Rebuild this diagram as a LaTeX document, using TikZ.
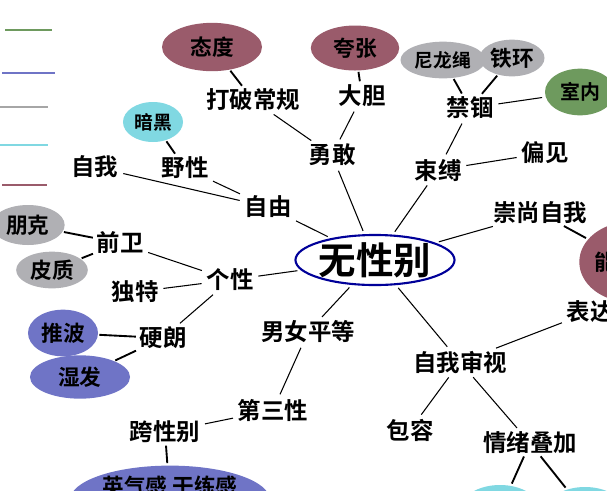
\documentclass[tikz,border=0pt]{standalone}
\usepackage{fontspec}
\setmainfont{Noto Sans CJK SC}[BoldFont={* Bold}]
\usetikzlibrary{shapes.geometric}
\definecolor{wine}{HTML}{9A5B6B}
\definecolor{moss}{HTML}{6E9A5E}
\definecolor{slate}{HTML}{B0B0B4}
\definecolor{aqua}{HTML}{80D8E2}
\definecolor{iris}{HTML}{6F74C6}
\tikzset{
  word/.style={font=\fontsize{20}{22}\selectfont\bfseries, inner sep=1pt},
  tag/.style={ellipse, font=\fontsize{18.5}{20}\selectfont\bfseries, inner sep=0pt},
  link/.style={line width=0.9pt, shorten <=3pt, shorten >=3pt},
  stem/.style={line width=1.6pt, shorten <=1pt, shorten >=2pt}
}
\begin{document}
\begin{tikzpicture}[x=0.03cm, y=-0.03cm]
  \useasboundingbox (0,0) rectangle (607,490);
  \clip (0,0) rectangle (607,490);

  % legend
  \draw[moss, line width=1.2pt] (5,30) -- (52,30);
  \draw[iris, line width=1.2pt] (2,73) -- (55,73);
  \draw[gray!70, line width=1.2pt] (0,107) -- (48,107);
  \draw[aqua, line width=1.2pt] (0,145) -- (48,145);
  \draw[wine, line width=1.6pt] (2,185) -- (47,185);

  % centre
  \node[ellipse, draw=blue!60!black, line width=1.8pt, inner sep=0pt,
        minimum width=4.2cm, minimum height=1.5cm, font=\fontsize{32}{34}\selectfont\bfseries] (root) at (375,260) {无性别};

  % words
  \node[word] (dapo) at (253,100) {打破常规};
  \node[word] (dadan) at (362,96) {大胆};
  \node[word] (yonggan) at (332,155) {勇敢};
  \node[word] (jingu) at (470,108) {禁锢};
  \node[word] (shufu) at (438,170) {束缚};
  \node[word] (pianjian) at (545,153) {偏见};
  \node[word] (chongshang) at (540,213) {崇尚自我};
  \node[word] (yexing) at (185,168) {野性};
  \node[word] (ziwo) at (95,167) {自我};
  \node[word] (ziyou) at (268,207) {自由};
  \node[word] (qianwei) at (120,243) {前卫};
  \node[word] (gexing) at (230,280) {个性};
  \node[word] (dute) at (135,292) {独特};
  \node[word] (yinglang) at (163,338) {硬朗};
  \node[word] (pingdeng) at (308,332) {男女平等};
  \node[word] (disan) at (273,410) {第三性};
  \node[word] (kuaxing) at (165,432) {跨性别};
  \node[word] (shenshi) at (460,362) {自我审视};
  \node[word] (biaoda) at (590,312) {表达};
  \node[word] (baorong) at (410,430) {包容};
  \node[word] (qingxu) at (530,443) {情绪叠加};

  % tags
  \node[tag, fill=wine, minimum width=3cm, minimum height=1.45cm] (taidu) at (212,47) {态度};
  \node[tag, fill=wine, minimum width=2.65cm, minimum height=1.35cm] (kuazhang) at (355,48) {夸张};
  \node[tag, fill=slate, minimum width=2.55cm, minimum height=1.1cm, font=\fontsize{16}{18}\selectfont\bfseries] (nilong) at (443,60) {尼龙绳};
  \node[tag, fill=slate, minimum width=1.95cm, minimum height=1.1cm] (tiehuan) at (512,58) {铁环};
  \node[tag, fill=moss, minimum width=2.1cm, minimum height=1.4cm, font=\fontsize{17}{19}\selectfont\bfseries] (shinei) at (580,92) {室内};
  \node[tag, fill=aqua, minimum width=1.8cm, minimum height=1.2cm, font=\fontsize{16}{18}\selectfont\bfseries] (anhei) at (153,122) {暗黑};
  \node[tag, fill=slate, minimum width=2.2cm, minimum height=1.2cm] (pengke) at (28,225) {朋克};
  \node[tag, fill=slate, minimum width=2.15cm, minimum height=1.1cm] (pizhi) at (52,270) {皮质};
  \node[tag, fill=iris, minimum width=2.1cm, minimum height=1.4cm] (tuibo) at (63,333) {推波};
  \node[tag, fill=iris, minimum width=3cm, minimum height=1.3cm] (shifa) at (80,377) {湿发};
  \node[tag, fill=iris, minimum width=6cm, minimum height=1.8cm, text depth=0.9cm] (yingqi) at (170,500) {英气感 干练感};
  \node[tag, fill=aqua, minimum width=2.4cm, minimum height=1.5cm] (qingA) at (500,510) {};
  \node[tag, fill=aqua, minimum width=2.4cm, minimum height=1.5cm] (qingB) at (585,512) {};
  \node[tag, fill=wine, minimum width=2.1cm, minimum height=2.4cm] (right) at (630,262) {能\hspace*{1.5cm}};

  % connectors
  \draw[stem] (taidu) -- (dapo);
  \draw[link] (dapo) -- (yonggan);
  \draw[stem] (kuazhang) -- (dadan);
  \draw[link] (dadan) -- (yonggan);
  \draw[link] (yonggan) -- (root);
  \draw[stem] (nilong) -- (jingu);
  \draw[stem] (tiehuan) -- (jingu);
  \draw[link] (shinei) -- (jingu);
  \draw[link] (jingu) -- (shufu);
  \draw[link] (pianjian) -- (shufu);
  \draw[link] (shufu) -- (root);
  \draw[link] (chongshang) -- (root);
  \draw[stem] (chongshang) -- (right);
  \draw[stem] (anhei) -- (yexing);
  \draw[link] (yexing) -- (ziyou);
  \draw[link] (ziwo) -- (ziyou);
  \draw[link] (ziyou) -- (root);
  \draw[stem] (pengke) -- (qianwei);
  \draw[stem] (pizhi) -- (qianwei);
  \draw[link] (qianwei) -- (gexing);
  \draw[link] (dute) -- (gexing);
  \draw[link] (yinglang) -- (gexing);
  \draw[stem] (tuibo) -- (yinglang);
  \draw[stem] (shifa) -- (yinglang);
  \draw[link] (gexing) -- (root);
  \draw[link] (pingdeng) -- (root);
  \draw[link] (pingdeng) -- (disan);
  \draw[link] (disan) -- (kuaxing);
  \draw[stem] (kuaxing) -- (yingqi);
  \draw[link] (root) -- (shenshi);
  \draw[link] (biaoda) -- (shenshi);
  \draw[link] (shenshi) -- (baorong);
  \draw[link] (shenshi) -- (qingxu);
  \draw[stem] (qingxu) -- (qingA);
  \draw[stem] (qingxu) -- (qingB);
\end{tikzpicture}
\end{document}
